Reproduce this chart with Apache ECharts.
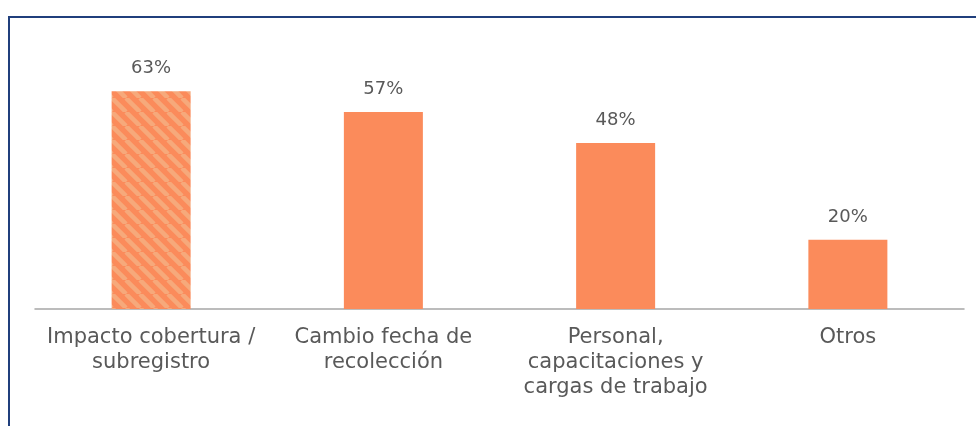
<!DOCTYPE html>
<html>
<head>
<meta charset="utf-8">
<script src="https://cdn.jsdelivr.net/npm/echarts@6/dist/echarts.min.js"></script>
<style>
  html, body { margin: 0; padding: 0; background: #fff; }
  #chart { width: 976px; height: 426px; }
</style>
</head>
<body>
<div id="chart"></div>
<script>
const categories = [
  'Impacto cobertura /\nsubregistro',
  'Cambio fecha de\nrecolección',
  'Personal,\ncapacitaciones y\ncargas de trabajo',
  'Otros'
]
const values = [63, 57, 48, 20]
const hatched = [true, false, false, false]

// diagonal stripe tile for the first bar
function stripes() {
  const s = 14
  const c = document.createElement('canvas')
  c.width = s; c.height = s
  const ctx = c.getContext('2d')
  ctx.fillStyle = '#fb8b5b'
  ctx.fillRect(0, 0, s, s)
  ctx.strokeStyle = '#f6a97b'
  ctx.lineWidth = 4.5
  for (const x0 of [-s, 0, s]) {
    ctx.beginPath()
    ctx.moveTo(x0, 0)
    ctx.lineTo(x0 + s, s)
    ctx.stroke()
  }
  return c
}

const chart = echarts.init(document.getElementById('chart'))
const font = 'DejaVu Sans'
chart.setOption({
  animation: false,
  grid: { left: 35, right: 12, top: 67, bottom: 117 },
  graphic: [{
    type: 'polyline',
    shape: { points: [[9, 426], [9, 17], [976, 17]] },
    style: { stroke: '#203f7c', lineWidth: 2, fill: null }
  }],
  xAxis: {
    type: 'category',
    data: categories,
    axisLine: { lineStyle: { color: '#a6a6a6', width: 1.5 } },
    axisTick: { show: false },
    axisLabel: {
      interval: 0,
      margin: 16,
      color: '#595959',
      fontFamily: font,
      fontSize: 21,
      lineHeight: 25
    }
  },
  yAxis: {
    type: 'value',
    min: 0,
    max: 70,
    show: false
  },
  series: [{
    type: 'bar',
    barWidth: 79,
    data: values.map((v, i) => ({
      value: v,
      itemStyle: {
        color: hatched[i] ? { image: stripes(), repeat: 'repeat' } : '#fb8b5b'
      }
    })),
    label: {
      show: true,
      position: 'top',
      distance: 14,
      formatter: '{c}%',
      color: '#595959',
      fontFamily: font,
      fontSize: 18
    }
  }]
})
</script>
</body>
</html>
